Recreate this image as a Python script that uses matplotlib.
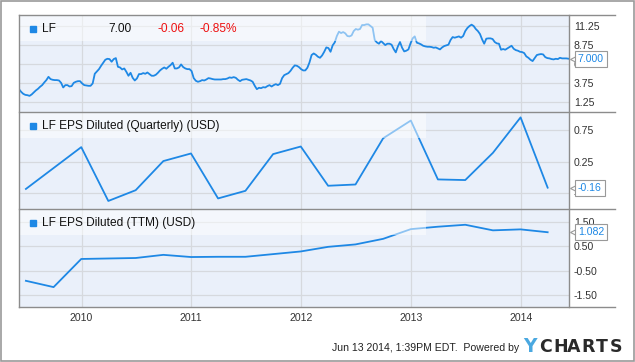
""" LF price and EPS, YCharts style. """
import numpy as np
import pandas as pd
import matplotlib
matplotlib.use("Agg")
import matplotlib.pyplot as plt
import matplotlib.dates as mdates
import matplotlib.transforms as mtransforms
from matplotlib.lines import Line2D

plt.rcParams["font.family"] = ["Liberation Sans", "DejaVu Sans"]

# weekly closing price
price = [
    3.00, 2.65, 2.39, 2.25, 2.21, 2.12, 2.30, 2.56, 2.83, 3.04, 3.31, 3.53, 3.88, 4.19,
    4.62, 4.32, 4.23, 4.19, 4.19, 4.14, 3.83, 3.22, 3.53, 3.53, 3.35, 3.40, 3.83, 3.97,
    4.05, 4.05, 3.75, 3.53, 3.48, 3.44, 3.44, 3.75, 5.02, 5.33, 5.63, 6.07, 6.47, 6.86,
    6.99, 6.95, 6.60, 6.95, 7.08, 5.94, 5.85, 5.59, 5.72, 5.28, 4.76, 5.15,
    4.49, 4.14, 4.40, 4.98, 4.98, 5.11, 5.02, 5.19, 4.98, 4.76, 4.76, 4.89, 5.15, 5.46,
    5.68, 5.85, 5.68, 5.94, 6.16, 6.47, 5.72, 5.72, 5.85, 6.25, 5.90, 5.72, 5.63, 5.63,
    5.37, 4.45, 4.10, 3.97, 4.05, 4.19, 4.14, 4.27, 4.45, 4.40, 4.32, 4.27, 4.27, 4.27,
    4.27, 4.32, 4.32, 4.40, 4.54, 4.49, 4.58, 4.49, 4.23, 4.05,
    4.23, 4.27, 4.32, 4.23, 4.14, 3.97, 3.44, 3.00, 3.18, 3.13, 3.26, 3.22, 3.40, 3.53,
    3.35, 3.53, 3.66, 3.53, 3.70, 4.45, 4.84, 4.98, 5.11, 5.41, 5.81, 6.12, 6.07, 5.90,
    5.63, 5.46, 5.46, 5.81, 6.51, 7.48, 7.69, 7.52, 7.26, 7.12, 7.43, 7.91, 8.48, 8.40,
    7.91, 8.75, 9.14, 9.98, 10.55, 10.37, 10.50, 10.33, 9.98, 9.93,
    10.06, 10.63, 10.90, 10.81, 10.90, 11.42, 11.42, 11.51, 11.51, 11.29, 11.07, 9.45,
    9.14, 8.97, 9.32, 9.05, 8.79, 8.97, 8.97, 8.84, 8.27, 7.83, 8.62, 9.19, 8.44, 7.96,
    8.05, 8.22, 9.01, 9.67, 9.93, 9.10, 9.01, 8.88, 8.70, 8.62, 8.57, 8.57, 8.53, 8.44,
    8.48, 8.35, 8.22, 8.48, 8.66, 8.75, 8.84, 9.45, 9.84, 9.76, 9.84, 9.93,
    9.76, 9.98, 10.63, 11.03, 11.29, 11.47, 11.29, 10.90, 10.63, 10.24, 9.54, 8.97,
    9.63, 9.67, 9.67, 9.58, 9.19, 9.01, 8.97, 8.18, 8.27, 8.18, 8.35, 8.53, 8.70, 8.31,
    8.13, 8.05, 7.91, 7.87, 7.74, 7.30, 7.12, 6.86, 6.69, 7.08, 7.48, 7.56, 7.61, 7.56,
    7.21, 7.08, 7.04, 6.95, 6.91, 6.99, 6.95, 7.12, 7.04, 7.04, 7.04, 7.00,
]
price_dates = pd.date_range("2009-06-07", periods=len(price), freq="7D")

quarters = [
    "2009-06-30", "2009-09-30", "2009-12-31", "2010-03-31", "2010-06-30",
    "2010-09-30", "2010-12-31", "2011-03-31", "2011-06-30", "2011-09-30",
    "2011-12-31", "2012-03-31", "2012-06-30", "2012-09-30", "2012-12-31",
    "2013-03-31", "2013-06-30", "2013-09-30", "2013-12-31", "2014-03-31",
]
eps_quarterly = [-0.18, 0.15, 0.48, -0.37, -0.20, 0.26, 0.38, -0.33, -0.21, 0.37,
                 0.49, -0.13, -0.11, 0.62, 0.90, -0.03, -0.04, 0.39, 0.95, -0.16]
eps_ttm = [-0.92, -1.18, -0.02, 0.00, 0.02, 0.15, 0.06, 0.07, 0.07, 0.18,
           0.29, 0.48, 0.58, 0.81, 1.21, 1.31, 1.39, 1.16, 1.20, 1.082]

titles = ["LF", "LF EPS Diluted (Quarterly) (USD)", "LF EPS Diluted (TTM) (USD)"]
yticks = [[1.25, 3.75, 6.25, 8.75, 11.25], [-0.25, 0.25, 0.75], [-1.5, -0.5, 0.5, 1.5]]
ylims = [(0.0, 12.74), (-0.497, 1.035), (-2.0, 2.04)]
callouts = ["7.000", "-0.16", "1.082"]
years = ["2010", "2011", "2012", "2013", "2014"]

BLUE = "#1e88e5"
BG = "#eaf0fa"
GRID = "#d6d9de"
FRAME = "#8c8c8c"
TXT = "#333333"

W, H = 635, 362


def fx(px):
    return px / W


def fy(py):
    return 1 - py / H


def main() -> None:
    """App main's function. """
    fig = plt.figure(figsize=(W / 100, H / 100), dpi=100)
    fig.patch.set_facecolor("white")

    q_dates = pd.to_datetime(quarters)
    series = [(price_dates, price), (q_dates, eps_quarterly), (q_dates, eps_ttm)]
    edges = [15, 112, 209, 307]
    x0, x1 = 19, 569
    xlim = (mdates.date2num(pd.Timestamp("2009-06-07")),
            mdates.date2num(pd.Timestamp("2014-06-10")))

    axes = []
    for i, (dates, vals) in enumerate(series):
        top, bot = edges[i], edges[i + 1]
        ax = fig.add_axes([fx(x0), fy(bot), fx(x1 - x0), (bot - top) / H])
        ax.set_facecolor(BG)
        ax.plot(dates, vals, color=BLUE, lw=1.3, zorder=3, solid_joinstyle="round")
        ax.set_xlim(xlim)
        ax.set_ylim(ylims[i])
        ax.set_yticks(yticks[i])
        ax.set_yticklabels([f"{t:.2f}" for t in yticks[i]])
        ax.yaxis.tick_right()
        ax.tick_params(axis="y", length=0, pad=3.5, labelsize=7.6, labelcolor=TXT)
        ax.set_xticks([mdates.date2num(pd.Timestamp(f"{y}-01-01")) for y in years])
        ax.tick_params(axis="x", length=0, pad=4, labelsize=7.6, labelcolor=TXT)
        if i == 2:
            ax.set_xticklabels(years)
        else:
            ax.set_xticklabels([])
        ax.grid(True, color=GRID, lw=0.9, zorder=1)
        ax.set_axisbelow(True)
        for s in ax.spines.values():
            s.set_visible(False)

        # header band, semi transparent over the line
        band_h = 26 / (bot - top)
        ax.add_patch(plt.Rectangle((0, 1 - band_h), (426 - x0) / (x1 - x0), band_h,
                                   transform=ax.transAxes, facecolor="white",
                                   alpha=0.5, lw=0, zorder=4))
        ty = 1 - 14 / (bot - top)
        ax.plot([(33 - x0) / (x1 - x0)], [ty], marker="s", ms=4.4, color=BLUE,
                transform=ax.transAxes, clip_on=False, zorder=6)
        ax.text((42 - x0) / (x1 - x0), ty, titles[i], transform=ax.transAxes,
                fontsize=8.6, color="#111111", va="center", ha="left", zorder=6)

        # value callout on the right
        trans = mtransforms.blended_transform_factory(ax.transAxes, ax.transData)
        last = vals[-1]
        ax.plot([1.0075], [last], marker="<", ms=5, mfc="white", mec="#999999",
                mew=0.8, transform=trans, clip_on=False, zorder=7)
        ax.text(1.016, last, callouts[i], transform=trans, fontsize=7.6, color=BLUE,
                va="center", ha="left", zorder=8,
                bbox=dict(boxstyle="square,pad=0.28", fc="white", ec="#999999", lw=0.8))
        axes.append(ax)

    ax0 = axes[0]
    ax0.text((108 - x0) / (x1 - x0), 1 - 14 / 97, "7.00", transform=ax0.transAxes,
             fontsize=8.6, color="#111111", va="center", ha="left", zorder=6)
    ax0.text((157 - x0) / (x1 - x0), 1 - 14 / 97, "-0.06", transform=ax0.transAxes,
             fontsize=8.6, color="#ee1111", va="center", ha="left", zorder=6)
    ax0.text((200 - x0) / (x1 - x0), 1 - 14 / 97, "-0.85%", transform=ax0.transAxes,
             fontsize=8.6, color="#ee1111", va="center", ha="left", zorder=6)

    # frame lines
    for e in edges:
        fig.add_artist(Line2D([fx(x0), fx(615)], [fy(e), fy(e)], color=FRAME, lw=1.0))
    for xv in (x0, x1):
        fig.add_artist(Line2D([fx(xv), fx(xv)], [fy(edges[0]), fy(edges[-1])],
                              color=FRAME, lw=1.0))
    fig.add_artist(plt.Rectangle((0.0008, 0.0014), 0.998, 0.997, transform=fig.transFigure,
                                 fill=False, ec="#9a9a9a", lw=1.2))

    # footer
    fig.text(fx(519), fy(348), "Jun 13 2014, 1:39PM EDT.  Powered by", fontsize=7.6,
             color="#222222", ha="right", va="center")
    fig.text(fx(523), fy(347), "Y", fontsize=13.5, fontweight="bold", color="#4aa8e0",
             ha="left", va="center", family="DejaVu Sans")
    for j, ch in enumerate("CHARTS"):
        fig.text(fx(539 + j * 14.2), fy(347), ch, fontsize=12.5, fontweight="bold",
                 color="#2a2a2a", ha="left", va="center", family="DejaVu Sans")

    fig.savefig("out.png", dpi=100)
    plt.close(fig)


if __name__ == "__main__":
    main()
